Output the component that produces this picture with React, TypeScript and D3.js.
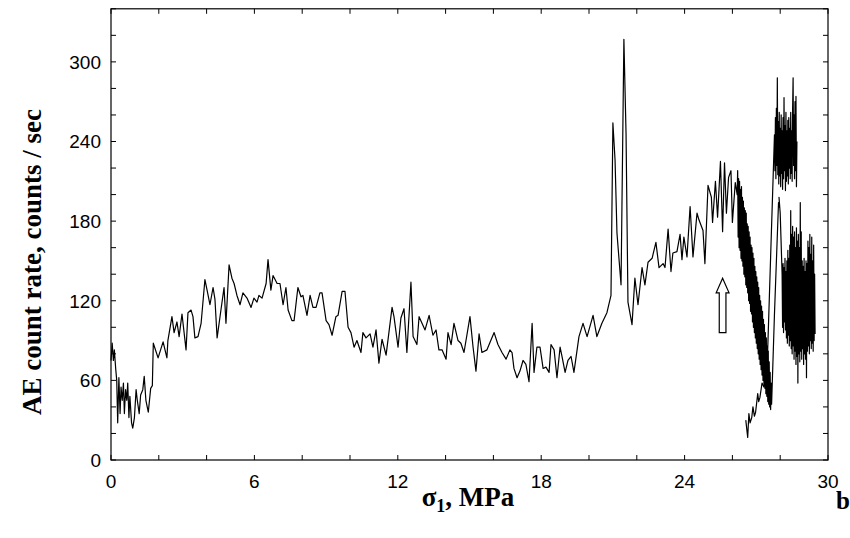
import React from 'react';
import * as d3 from 'd3';

// Acoustic emission count rate (counts/sec) versus axial stress sigma1 (MPa).
type Pt = [number, number];

const xTickLabels = [0, 6, 12, 18, 24, 30];
const yTickLabels = [0, 60, 120, 180, 240, 300];

// Early loading, 0 - 10 MPa
const loadingEarly: Pt[] = [
  [0.0, 75], [0.05, 88], [0.1, 75], [0.14, 83], [0.2, 68], [0.24, 60], [0.28, 28], [0.33, 62],
  [0.38, 35], [0.42, 55], [0.47, 45], [0.52, 58], [0.56, 35], [0.61, 53], [0.66, 45], [0.7, 58],
  [0.75, 32], [0.79, 48], [0.86, 28], [0.91, 24], [0.98, 32], [1.05, 53], [1.1, 45], [1.18, 35],
  [1.24, 49], [1.33, 53], [1.39, 63], [1.46, 45], [1.56, 36], [1.66, 54], [1.73, 56], [1.77, 88],
  [1.97, 77], [2.18, 89], [2.34, 77], [2.38, 90], [2.55, 108], [2.64, 96], [2.76, 104], [2.85, 93],
  [2.97, 110], [3.14, 83], [3.22, 111], [3.35, 113], [3.43, 108], [3.51, 92], [3.64, 93], [3.77, 103],
  [3.93, 136], [4.02, 128], [4.14, 117], [4.27, 130], [4.35, 121], [4.44, 92], [4.6, 113], [4.73, 130],
  [4.81, 103], [4.94, 147], [5.06, 137], [5.15, 133], [5.27, 124], [5.4, 117], [5.52, 126], [5.69, 122],
  [5.86, 115], [5.98, 122], [6.11, 119], [6.19, 124], [6.32, 122], [6.49, 133], [6.57, 151], [6.69, 128],
  [6.78, 139], [6.95, 133], [7.07, 133], [7.2, 117], [7.32, 130], [7.41, 113], [7.57, 105], [7.66, 105],
  [7.82, 130], [7.95, 123], [8.03, 124], [8.2, 109], [8.33, 124], [8.45, 115], [8.58, 115], [8.74, 126],
  [8.83, 126], [9.0, 105], [9.12, 102], [9.25, 94], [9.41, 108], [9.5, 109], [9.67, 127], [9.79, 127],
  [9.92, 100],
];

// Quiet stage, 10 - 19.6 MPa
const loadingMiddle: Pt[] = [
  [10.04, 96], [10.17, 85], [10.29, 90], [10.46, 81], [10.54, 96], [10.67, 92], [10.84, 95], [10.96, 85],
  [11.09, 98], [11.21, 73], [11.34, 91], [11.51, 79], [11.76, 115], [11.84, 108], [12.01, 85], [12.13, 107],
  [12.26, 114], [12.38, 81], [12.55, 134], [12.64, 93], [12.8, 87], [12.89, 108], [13.14, 98], [13.31, 109],
  [13.47, 94], [13.6, 98], [13.72, 83], [13.85, 83], [14.02, 76], [14.1, 96], [14.23, 87], [14.35, 103],
  [14.52, 90], [14.64, 88], [14.77, 81], [15.02, 108], [15.15, 85], [15.27, 67], [15.4, 95], [15.52, 81],
  [15.73, 83], [16.03, 96], [16.19, 87], [16.36, 81], [16.53, 76], [16.69, 83], [16.78, 81], [16.86, 69],
  [16.99, 62], [17.11, 67], [17.24, 75], [17.36, 72], [17.49, 59], [17.62, 103], [17.7, 66], [17.82, 85],
  [17.95, 85], [18.08, 69], [18.2, 70], [18.33, 66], [18.41, 87], [18.54, 83], [18.66, 62], [18.79, 85],
  [18.87, 78], [19.0, 66], [19.12, 75], [19.25, 78], [19.37, 66], [19.58, 93],
];

// Bursts and growth, 19.6 - 26.2 MPa
const loadingLate: Pt[] = [
  [19.75, 103], [19.92, 93], [20.17, 109], [20.33, 93], [20.54, 103], [20.75, 111], [20.92, 124], [21.0, 254],
  [21.09, 226], [21.17, 171], [21.34, 132], [21.46, 317], [21.55, 246], [21.63, 119], [21.8, 102], [21.92, 137],
  [22.05, 117], [22.22, 145], [22.34, 132], [22.47, 149], [22.64, 152], [22.8, 164], [22.93, 145], [23.1, 148],
  [23.18, 145], [23.31, 174], [23.43, 142], [23.51, 156], [23.68, 157], [23.81, 170], [23.89, 151], [23.97, 168],
  [24.1, 153], [24.23, 191], [24.35, 153], [24.52, 186], [24.6, 181], [24.77, 173], [24.85, 148], [24.98, 207],
  [25.12, 198], [25.17, 179], [25.29, 210], [25.38, 183], [25.5, 225], [25.59, 172], [25.67, 224], [25.75, 186],
  [25.84, 213], [25.94, 218], [26.0, 179], [26.12, 209], [26.2, 200],
];

// Falling band, 26.2 - 27.6 MPa
const fallingBand: Pt[] = [
  [26.22, 218], [26.24, 168], [26.26, 212], [26.28, 160], [26.3, 210], [26.32, 158], [26.34, 204], [26.36, 152],
  [26.38, 206], [26.4, 150], [26.42, 198], [26.44, 146], [26.46, 195], [26.48, 140], [26.5, 190], [26.52, 138],
  [26.54, 188], [26.56, 132], [26.58, 186], [26.6, 130], [26.62, 178], [26.64, 126], [26.66, 176], [26.68, 120],
  [26.7, 172], [26.72, 118], [26.74, 168], [26.76, 112], [26.78, 162], [26.8, 110], [26.82, 160], [26.84, 104],
  [26.86, 156], [26.88, 100], [26.9, 152], [26.92, 96], [26.94, 146], [26.96, 92], [26.98, 142], [27.0, 88],
  [27.02, 138], [27.04, 84], [27.06, 134], [27.08, 80], [27.1, 130], [27.12, 76], [27.14, 124], [27.16, 72],
  [27.18, 120], [27.2, 68], [27.22, 116], [27.24, 64], [27.26, 112], [27.28, 60], [27.3, 106], [27.32, 56],
  [27.34, 102], [27.36, 54], [27.38, 96], [27.4, 50], [27.42, 92], [27.44, 48], [27.46, 86], [27.48, 44],
  [27.5, 82], [27.52, 42], [27.54, 74], [27.56, 40], [27.58, 66], [27.6, 38], [27.62, 58], [27.64, 42],
];

// Rise towards the lower cluster
const risingLink: Pt[] = [
  [27.76, 110], [27.93, 194], [27.98, 190], [27.95, 198], [28.0, 186],
];

// Lower cluster, 28.1 - 29.5 MPa
const lowerCluster: Pt[] = [
  [28.08, 140], [28.1, 100], [28.12, 148], [28.14, 96], [28.16, 145], [28.18, 104], [28.2, 152], [28.22, 98],
  [28.24, 142], [28.26, 92], [28.28, 150], [28.3, 88], [28.32, 158], [28.34, 94], [28.36, 152], [28.38, 86],
  [28.4, 162], [28.42, 90], [28.44, 188], [28.46, 84], [28.48, 170], [28.5, 80], [28.52, 176], [28.54, 86],
  [28.56, 168], [28.58, 76], [28.6, 172], [28.62, 82], [28.64, 160], [28.66, 72], [28.68, 175], [28.7, 78],
  [28.72, 165], [28.74, 58], [28.76, 170], [28.78, 80], [28.8, 160], [28.82, 74], [28.84, 194], [28.86, 82],
  [28.88, 172], [28.9, 76], [28.92, 150], [28.94, 84], [28.96, 146], [28.98, 72], [29.0, 152], [29.02, 80],
  [29.04, 142], [29.06, 76], [29.08, 150], [29.1, 62], [29.12, 148], [29.14, 82], [29.16, 165], [29.18, 86],
  [29.2, 160], [29.22, 80], [29.24, 170], [29.26, 90], [29.28, 155], [29.3, 84], [29.32, 168], [29.34, 88],
  [29.36, 150], [29.38, 82], [29.4, 162], [29.42, 90], [29.44, 140], [29.46, 95],
];

// Low-rate branch, 26.5 - 27.4 MPa
const lowBranch: Pt[] = [
  [26.56, 30], [26.64, 17], [26.69, 35], [26.74, 28], [26.81, 32], [26.86, 40], [26.92, 33], [26.97, 36],
  [27.06, 50], [27.1, 44], [27.15, 47], [27.24, 58], [27.32, 55], [27.44, 62],
];

// Upper cluster, 27.8 - 28.7 MPa
const upperCluster: Pt[] = [
  [27.76, 245], [27.78, 218], [27.8, 258], [27.82, 212], [27.84, 265], [27.86, 222], [27.88, 288], [27.9, 215],
  [27.92, 255], [27.94, 208], [27.96, 262], [27.98, 214], [28.0, 250], [28.02, 206], [28.04, 260], [28.06, 216],
  [28.08, 248], [28.1, 204], [28.12, 258], [28.14, 212], [28.16, 273], [28.18, 218], [28.2, 252], [28.22, 203],
  [28.24, 262], [28.26, 210], [28.28, 248], [28.3, 214], [28.32, 256], [28.34, 208], [28.36, 258], [28.38, 220],
  [28.4, 250], [28.42, 212], [28.44, 262], [28.46, 216], [28.48, 248], [28.5, 210], [28.52, 265], [28.54, 288],
  [28.56, 222], [28.58, 260], [28.6, 212], [28.62, 270], [28.64, 218], [28.66, 274], [28.68, 206], [28.7, 240],
];

// Hollow arrow marker: tip, head base and shaft bottom, in data units
const arrowTip: Pt = [25.59, 137];
const arrowHeadBase = { y: 126, x0: 25.32, x1: 25.86 };
const arrowShaft = { x0: 25.45, x1: 25.73, bottom: 96 };

const W = 850;
const H = 538;
const M = { left: 111, right: 828, top: 8.8, bottom: 460 };

export default function App() {
  const x = d3.scaleLinear().domain([0, 30]).range([M.left, M.right]);
  const y = d3.scaleLinear().domain([0, 340]).range([M.bottom, M.top]);
  const line = d3
    .line<Pt>()
    .x((d) => x(d[0]))
    .y((d) => y(d[1]));

  const mainPath = [...loadingEarly, ...loadingMiddle, ...loadingLate, ...fallingBand, ...risingLink, ...lowerCluster];
  const branchPath = [...lowBranch, ...upperCluster];

  const xMinor = d3.range(0, 30.001, 2);
  const yMinor = d3.range(0, 340.001, 20);
  const tickLen = 5;

  const arrowPts: Pt[] = [
    [x(arrowTip[0]), y(arrowTip[1])],
    [x(arrowHeadBase.x1), y(arrowHeadBase.y)],
    [x(arrowShaft.x1), y(arrowHeadBase.y)],
    [x(arrowShaft.x1), y(arrowShaft.bottom)],
    [x(arrowShaft.x0), y(arrowShaft.bottom)],
    [x(arrowShaft.x0), y(arrowHeadBase.y)],
    [x(arrowHeadBase.x0), y(arrowHeadBase.y)],
  ];

  const tickFont = "'Liberation Sans', Arial, sans-serif";
  const titleFont = "'Liberation Serif', 'Times New Roman', serif";

  return (
    <svg
      width={W}
      height={H}
      viewBox={`0 0 ${W} ${H}`}
      style={{ position: 'absolute', left: 0, top: 0, background: '#fff' }}
    >
      <rect x={0} y={0} width={W} height={H} fill="#fff" />

      {/* frame */}
      <rect
        x={M.left}
        y={M.top}
        width={M.right - M.left}
        height={M.bottom - M.top}
        fill="none"
        stroke="#000"
        strokeWidth={1.2}
      />

      {/* inward ticks */}
      {xMinor.map((t) => (
        <g key={`xt${t}`} stroke="#000" strokeWidth={1}>
          <line x1={x(t)} x2={x(t)} y1={M.bottom} y2={M.bottom - tickLen} />
          <line x1={x(t)} x2={x(t)} y1={M.top} y2={M.top + tickLen} />
        </g>
      ))}
      {yMinor.map((t) => (
        <g key={`yt${t}`} stroke="#000" strokeWidth={1}>
          <line x1={M.left} x2={M.left + tickLen} y1={y(t)} y2={y(t)} />
          <line x1={M.right} x2={M.right - tickLen} y1={y(t)} y2={y(t)} />
        </g>
      ))}

      {/* tick labels */}
      {xTickLabels.map((t) => (
        <text key={`xl${t}`} x={x(t)} y={488} textAnchor="middle" fontFamily={tickFont} fontSize={19} fill="#000">
          {t}
        </text>
      ))}
      {yTickLabels.map((t) => (
        <text
          key={`yl${t}`}
          x={101}
          y={y(t)}
          dy="0.36em"
          textAnchor="end"
          fontFamily={tickFont}
          fontSize={19}
          fill="#000"
        >
          {t}
        </text>
      ))}

      {/* data */}
      <path d={line(mainPath) ?? ''} fill="none" stroke="#000" strokeWidth={1.2} strokeLinejoin="round" />
      <path d={line(branchPath) ?? ''} fill="none" stroke="#000" strokeWidth={1.2} strokeLinejoin="round" />

      {/* arrow marker */}
      <polygon
        points={arrowPts.map((p) => p.join(',')).join(' ')}
        fill="#fff"
        stroke="#000"
        strokeWidth={1.2}
      />

      {/* axis titles */}
      <text
        transform={`translate(41, ${262}) rotate(-90)`}
        textAnchor="middle"
        fontFamily={titleFont}
        fontWeight="bold"
        fontSize={27}
        fill="#000"
      >
        AE count rate, counts / sec
      </text>
      <text x={468} y={506} textAnchor="middle" fontFamily={titleFont} fontWeight="bold" fontSize={27} fill="#000">
        σ<tspan fontSize={18} dy={6}>1</tspan>
        <tspan dy={-6}>, MPa</tspan>
      </text>
      <text x={843} y={509} textAnchor="middle" fontFamily={titleFont} fontWeight="bold" fontSize={25} fill="#000">
        b
      </text>
    </svg>
  );
}
